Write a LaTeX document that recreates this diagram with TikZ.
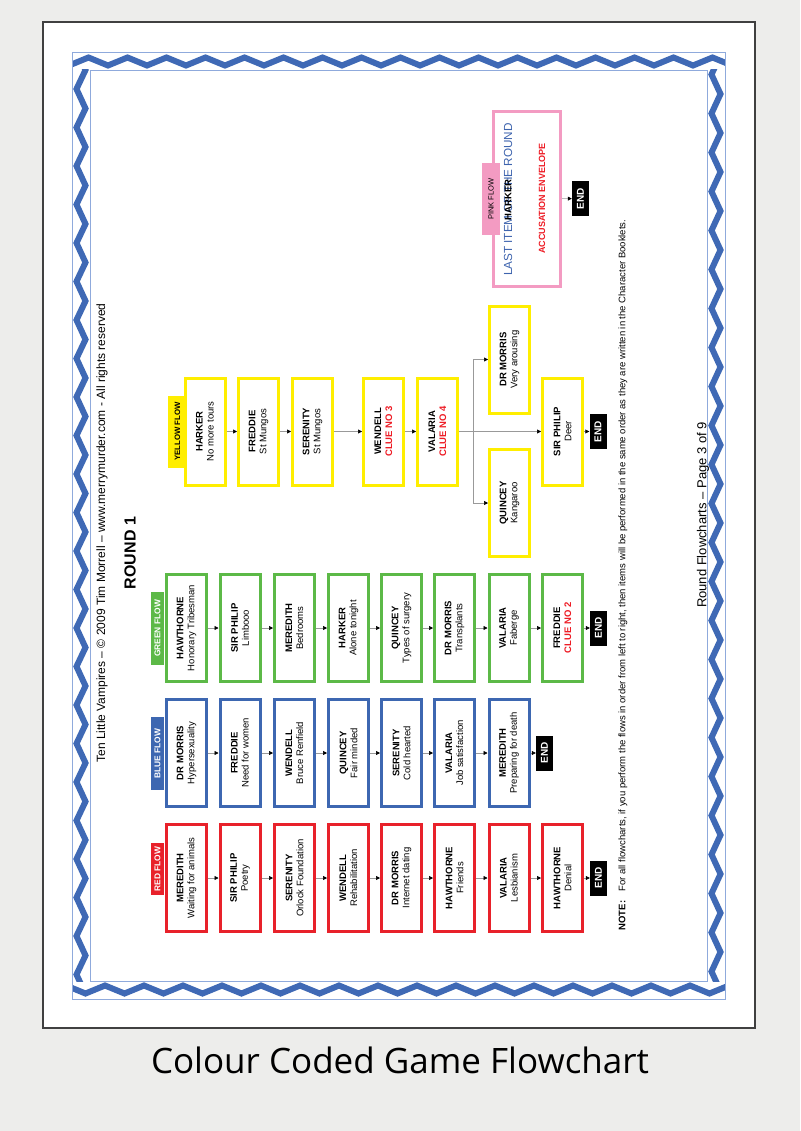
\documentclass[tikz,border=0pt]{standalone}
\usepackage{fontspec}
\setmainfont{Liberation Sans}
\newfontfamily\capfont{Open Sans}
\usetikzlibrary{arrows.meta}
\definecolor{bgc}{HTML}{EDEDEB}
\definecolor{myred}{HTML}{E8212A}
\definecolor{myblue}{HTML}{3D67B1}
\definecolor{mygreen}{HTML}{5CB947}
\definecolor{myyellow}{HTML}{FFEE00}
\definecolor{mypink}{HTML}{F39BC2}
\definecolor{zigblue}{HTML}{3F69B5}
\definecolor{linblue}{HTML}{8FAADC}
\definecolor{cluered}{HTML}{EE1C25}
\definecolor{lastblue}{HTML}{3E64AE}
\newcommand\boxtxt[2]{{\bfseries #1}\\#2}
\newcommand\cluetxt[1]{\textcolor{cluered}{\bfseries #1}}
\begin{document}
\begin{tikzpicture}[x=1pt,y=-1pt,
  box/.style={draw, line width=3pt, rotate=90, minimum width=107pt, minimum height=40pt,
    inner sep=1pt, align=center, fill=white, font=\fontsize{9.5}{11}\selectfont},
  rbox/.style={box, draw=myred},
  bbox/.style={box, draw=myblue},
  gbox/.style={box, draw=mygreen},
  ybox/.style={box, draw=myyellow},
  endbox/.style={fill=black, text=white, rotate=90, minimum width=35pt, minimum height=17pt,
    inner sep=0pt, font=\bfseries\fontsize{10}{10}\selectfont},
  flowlab/.style={rotate=90, inner sep=0pt, minimum height=13pt, text=white,
    font=\bfseries\fontsize{8.4}{9}\selectfont},
  conn/.style={draw=black!40, line width=0.6pt, -{Triangle[length=4pt,width=4pt,color=black]}},
  plainline/.style={draw=black!40, line width=0.6pt},
  zz/.style={draw=zigblue, line width=6pt, line join=miter},
  thinb/.style={draw=linblue, line width=0.8pt}
]
\useasboundingbox (0,0) rectangle (800,1131);
\fill[bgc] (0,0) rectangle (800,1131);
\draw[draw=black!75, line width=1.6pt, fill=white] (43,22) rectangle (755,1028);

% zigzag border
\begin{scope}
  \clip (72,52) rectangle (725,70);
  \draw[zz] (69,65.5) \foreach \i in {0,...,16} { -- ({88.5+39*\i},57.5) -- ({108+39*\i},65.5) };
\end{scope}
\begin{scope}
  \clip (72,981) rectangle (725,999);
  \draw[zz] (66,985.5) \foreach \i in {0,...,17} { -- ({85.5+39*\i},993.5) -- ({105+39*\i},985.5) };
\end{scope}
\begin{scope}
  \clip (72,70) rectangle (90,981);
  \draw[zz] (85.5,31) \foreach \i in {0,...,25} { -- (76.5,{50.5+38.5*\i}) -- (85.5,{70+38.5*\i}) };
\end{scope}
\begin{scope}
  \clip (707,70) rectangle (725,981);
  \draw[zz] (711.5,-3.5) \foreach \i in {0,...,25} { -- (720.5,{16+39*\i}) -- (711.5,{35.5+39*\i}) };
\end{scope}
\draw[thinb] (72,52) rectangle (725,999);
\draw[thinb] (90,70) rectangle (707,981);

% header
\node[rotate=90, font=\fontsize{12}{14}\selectfont] (hdr) at (102,533)
  {Ten Little Vampires -- \textcopyright\ 2009 Tim Morrell -- www.merrymurder.com - All rights reserved};
\node[rotate=90, font=\bfseries\fontsize{16}{18}\selectfont] (rnd) at (130,553) {ROUND 1};

% RED FLOW
\node[rbox] (r1) at (186.5,878) {\boxtxt{MEREDITH}{Waiting for animals}};
\node[rbox] (r2) at (240,878) {\boxtxt{SIR PHILIP}{Poetry}};
\node[rbox] (r3) at (294.5,878) {\boxtxt{SERENITY}{Orlock Foundation}};
\node[rbox] (r4) at (348.5,878) {\boxtxt{WENDELL}{Rehabilitation}};
\node[rbox] (r5) at (401.5,878) {\boxtxt{DR MORRIS}{Internet dating}};
\node[rbox] (r6) at (454.5,878) {\boxtxt{HAWTHORNE}{Friends}};
\node[rbox] (r7) at (509,878) {\boxtxt{VALARIA}{Lesbianism}};
\node[rbox] (r8) at (562.5,878) {\boxtxt{HAWTHORNE}{Denial}};
\node[endbox] (rE) at (598.5,878) {END};
\node[flowlab, fill=myred, minimum width=52pt] (rL) at (157.5,869) {RED FLOW};
\foreach \a/\b in {r1/r2,r2/r3,r3/r4,r4/r5,r5/r6,r6/r7,r7/r8,r8/rE} \draw[conn] (\a) -- (\b);

% BLUE FLOW
\node[bbox] (b1) at (186.5,753) {\boxtxt{DR MORRIS}{Hypersexuality}};
\node[bbox] (b2) at (240,753) {\boxtxt{FREDDIE}{Need for women}};
\node[bbox] (b3) at (294.5,753) {\boxtxt{WENDELL}{Bruce Renfield}};
\node[bbox] (b4) at (348.5,753) {\boxtxt{QUINCEY}{Fair minded}};
\node[bbox] (b5) at (401.5,753) {\boxtxt{SERENITY}{Cold hearted}};
\node[bbox] (b6) at (454.5,753) {\boxtxt{VALARIA}{Job satisfaction}};
\node[bbox] (b7) at (509,753) {\boxtxt{MEREDITH}{Preparing for death}};
\node[endbox] (bE) at (544.5,753) {END};
\node[flowlab, fill=myblue, minimum width=73pt] (bL) at (157.5,753.5) {BLUE FLOW};
\foreach \a/\b in {b1/b2,b2/b3,b3/b4,b4/b5,b5/b6,b6/b7,b7/bE} \draw[conn] (\a) -- (\b);

% GREEN FLOW
\node[gbox] (g1) at (186.5,628) {\boxtxt{HAWTHORNE}{Honorary Tribesman}};
\node[gbox] (g2) at (240,628) {\boxtxt{SIR PHILIP}{Limbooo}};
\node[gbox] (g3) at (294.5,628) {\boxtxt{MEREDITH}{Bedrooms}};
\node[gbox] (g4) at (348.5,628) {\boxtxt{HARKER}{Alone tonight}};
\node[gbox] (g5) at (401.5,628) {\boxtxt{QUINCEY}{Types of surgery}};
\node[gbox] (g6) at (454.5,628) {\boxtxt{DR MORRIS}{Transplants}};
\node[gbox] (g7) at (509,628) {\boxtxt{VALARIA}{Faberge}};
\node[gbox] (g8) at (562.5,628) {\boxtxt{FREDDIE}{\cluetxt{CLUE NO 2}}};
\node[endbox] (gE) at (598.5,628) {END};
\node[flowlab, fill=mygreen, minimum width=73pt] (gL) at (157.5,628.5) {GREEN FLOW};
\foreach \a/\b in {g1/g2,g2/g3,g3/g4,g4/g5,g5/g6,g6/g7,g7/g8,g8/gE} \draw[conn] (\a) -- (\b);

% YELLOW FLOW
\node[ybox] (y1) at (205,431.5) {\boxtxt{HARKER}{No more tours}};
\node[ybox] (y2) at (258.5,431.5) {\boxtxt{FREDDIE}{St Mungos}};
\node[ybox] (y3) at (312.5,431.5) {\boxtxt{SERENITY}{St Mungos}};
\node[ybox] (y4) at (383.5,431.5) {\boxtxt{WENDELL}{\cluetxt{CLUE NO 3}}};
\node[ybox] (y5) at (437.5,431.5) {\boxtxt{VALARIA}{\cluetxt{CLUE NO 4}}};
\node[ybox] (y6) at (509.5,359.5) {\boxtxt{DR MORRIS}{Very arousing}};
\node[ybox] (y7) at (509.5,503) {\boxtxt{QUINCEY}{Kangaroo}};
\node[ybox] (y8) at (562.5,431.5) {\boxtxt{SIR PHILIP}{Deer}};
\node[endbox] (yE) at (598,431.5) {END};
\node[flowlab, fill=myyellow, text=black, minimum width=72pt, minimum height=19pt,
  font=\bfseries\fontsize{7.8}{9}\selectfont] (yL) at (177.5,431.5) {YELLOW FLOW};
\foreach \a/\b in {y1/y2,y2/y3,y3/y4,y4/y5,y5/y8,y8/yE} \draw[conn] (\a) -- (\b);
\coordinate (ybr) at (473,431.5);
\draw[plainline] (ybr |- y6) -- (ybr |- y7);
\draw[conn] (ybr |- y6) -- (y6);
\draw[conn] (ybr |- y7) -- (y7);

% PINK FLOW
\node[draw=mypink, line width=3pt, rotate=90, minimum width=175pt, minimum height=67pt,
  inner sep=0pt, fill=white] (pb) at (527,199) {};
\node[rotate=90, text=lastblue, font=\fontsize{11.7}{12}\selectfont] (plast) at (508,199.5) {LAST ITEM OF THE ROUND};
\node[rotate=90, font=\bfseries\fontsize{9.5}{11}\selectfont] (pharker) at (508,200) {HARKER};
\node[rotate=90, text=cluered, font=\bfseries\fontsize{9}{11}\selectfont] (pacc) at (542,198.5) {ACCUSATION ENVELOPE};
\node[flowlab, fill=mypink, text=black, minimum width=72pt, minimum height=18pt,
  font=\fontsize{7.5}{9}\selectfont] (pL) at (491,199) {PINK FLOW};
\node[endbox] (pE) at (580.5,198.5) {END};
\draw[conn] (pb) -- (pE);

% note and footer
\node[rotate=90, font=\fontsize{9.5}{11}\selectfont] (note) at (623,575)
  {\textbf{NOTE:}\quad For all flowcharts, if you perform the flows in order from left to right, then items will be performed in the same order as they are written in the Character Booklets.};
\node[rotate=90, font=\fontsize{13}{15}\selectfont] (foot) at (703,515) {Round Flowcharts -- Page 3 of 9};

% caption
\node[font=\capfont\fontsize{35}{40}\selectfont] (cap) at (400,1060) {Colour Coded Game Flowchart};
\end{tikzpicture}
\end{document}
